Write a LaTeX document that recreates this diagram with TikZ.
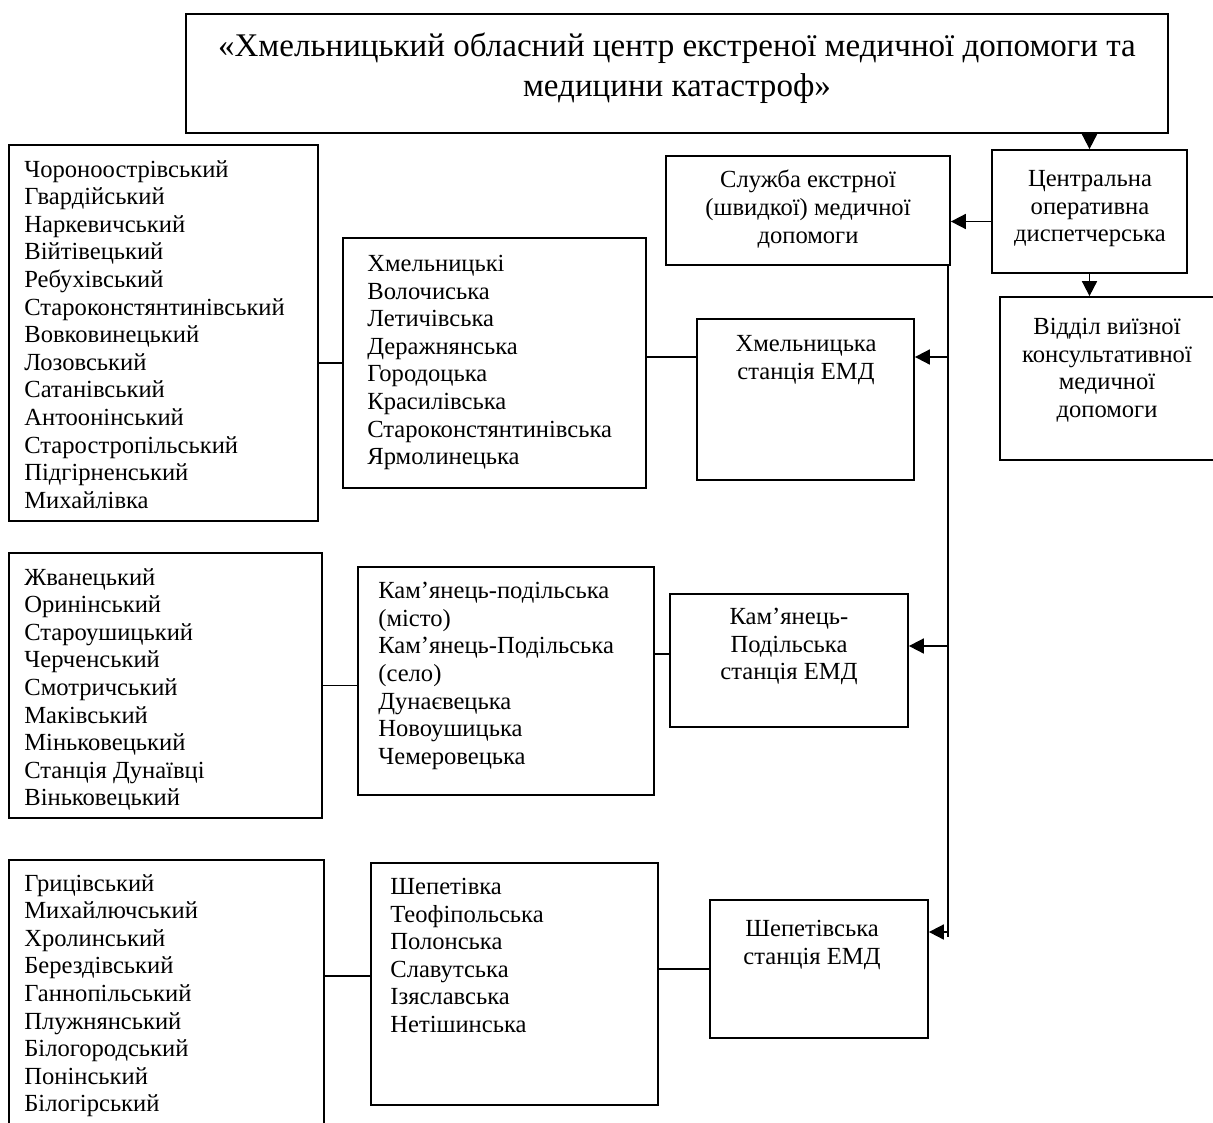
\documentclass[tikz,border=0pt]{standalone}
\usepackage{fontspec}
\setmainfont{Liberation Serif}
\usetikzlibrary{fit,arrows.meta}

\begin{document}
\begin{tikzpicture}[
    x=0.02cm, y=-0.02cm,
    font=\fontsize{14}{15.7}\selectfont,
    caja/.style={rectangle, draw=black, line width=1pt, inner sep=0},
    linea/.style={line width=1pt},
    flecha/.style={line width=1pt, -{Triangle[length=8.5pt, width=8.5pt]}},
    texto/.style={inner sep=0, align=center, anchor=north},
    lista/.style={inner sep=0, align=left, anchor=north west}
]

\useasboundingbox (0,0) rectangle (1213,1122);
\clip (0,0) rectangle (1213,1122);

% ============================================
% CENTRO REGIONAL Y SERVICIOS
% ============================================

% Título (centro regional)
\node[caja, fit={(186,14) (1168,133)}] (oblc) {};
\node[texto, font=\fontsize{18.8}{22.2}\selectfont] (oblcT) at (677,33)
    {«Хмельницький обласний центр екстреної медичної допомоги та\\медицини катастроф»};

% Servicio y despacho central
\node[caja, fit={(666,156) (950,265)}] (shmd) {};
\node[texto] (shmdT) at (808,170) {Служба екстрної\\(швидкої) медичної\\допомоги};

\node[caja, fit={(992,150) (1187,273)}] (cod) {};
\node[texto] (codT) at (1090,170) {Центральна\\оперативна\\диспетчерська};

\node[caja, fit={(1000,297) (1230,460)}] (vkmd) {};
\node[texto] (vkmdT) at (1107,318) {Відділ виїзної\\консультативної\\медичної\\допомоги};

% ============================================
% ESTACIONES EMD
% ============================================
\node[caja, fit={(697,319) (914,480)}] (stKh) {};
\node[texto] (stKhT) at (806,335) {Хмельницька\\станція ЕМД};

\node[caja, fit={(670,594) (908,727)}] (stKp) {};
\node[texto] (stKpT) at (789,608) {Кам’янець-\\Подільська\\станція ЕМД};

\node[caja, fit={(710,900) (928,1038)}] (stSh) {};
\node[texto] (stShT) at (812,920) {Шепетівська\\станція ЕМД};

% ============================================
% LISTAS (subestaciones y puntos)
% ============================================

% Grupo Khmelnytskyi
\node[caja, fit={(9,145) (318,521)}] (pnKh) {};
\node[lista] (pnKhT) at (24,160) {Чороноострівський\\Гвардійський\\Наркевичський\\Війтівецький\\Ребухівський\\Староконстянтинівський\\Вовковинецький\\Лозовський\\Сатанівський\\Антоонінський\\Старостропільський\\Підгірненський\\Михайлівка};

\node[caja, fit={(343,238) (646,488)}] (lsKh) {};
\node[lista] (lsKhT) at (367,255) {Хмельницькі\\Волочиська\\Летичівська\\Деражнянська\\Городоцька\\Красилівська\\Староконстянтинівська\\Ярмолинецька};

% Grupo Kamianets-Podilskyi
\node[caja, fit={(9,553) (322,818)}] (pnKp) {};
\node[lista] (pnKpT) at (24,568) {Жванецький\\Оринінський\\Староушицький\\Черченський\\Смотричський\\Маківський\\Міньковецький\\Станція Дунаївці\\Віньковецький};

\node[caja, fit={(358,567) (654,795)}] (lsKp) {};
\node[lista] (lsKpT) at (378,582) {Кам’янець-подільська\\(місто)\\Кам’янець-Подільська\\(село)\\Дунаєвецька\\Новоушицька\\Чемеровецька};

% Grupo Shepetivka
\node[caja, fit={(9,860) (324,1140)}] (pnSh) {};
\node[lista] (pnShT) at (24,874) {Грицівський\\Михайлючський\\Хролинський\\Берездівський\\Ганнопільський\\Плужнянський\\Білогородський\\Понінський\\Білогірський};

\node[caja, fit={(371,863) (658,1105)}] (lsSh) {};
\node[lista] (lsShT) at (390,878) {Шепетівка\\Теофіпольська\\Полонська\\Славутська\\Ізяславська\\Нетішинська};

% ============================================
% CONEXIONES
% ============================================
\coordinate (tB) at (948,937);
\coordinate (t1) at (948,357);
\coordinate (t2) at (948,646);
\coordinate (t3) at (948,932);

\draw[flecha] (oblc.south -| cod.north) -- (cod.north);
\draw[flecha] ([yshift=-0.2cm]cod.west) -- ([yshift=-0.2cm]cod.west -| shmd.east);
\draw[flecha] (cod.south) -- (cod.south |- vkmd.north);

% Línea vertical hacia las estaciones
\draw[linea] (shmd.south -| tB) -- (tB);
\draw[flecha] (t1) -- (t1 -| stKh.east);
\draw[flecha] (t2) -- (t2 -| stKp.east);
\draw[flecha] (t3) -- (t3 -| stSh.east);

% Listas hacia estaciones
\draw[linea] (lsKh.west -| pnKh.east) -- (lsKh.west);
\draw[linea] (t1 -| lsKh.east) -- (t1 -| stKh.west);
\draw[linea] (pnKp.east) -- (pnKp.east -| lsKp.west);
\draw[linea] ([yshift=0.13cm]stKp.west -| lsKp.east) -- ([yshift=0.13cm]stKp.west);
\draw[linea] ([yshift=0.16cm]lsSh.west -| pnSh.east) -- ([yshift=0.16cm]lsSh.west);
\draw[linea] (stSh.west -| lsSh.east) -- (stSh.west);

\end{tikzpicture}
\end{document}
